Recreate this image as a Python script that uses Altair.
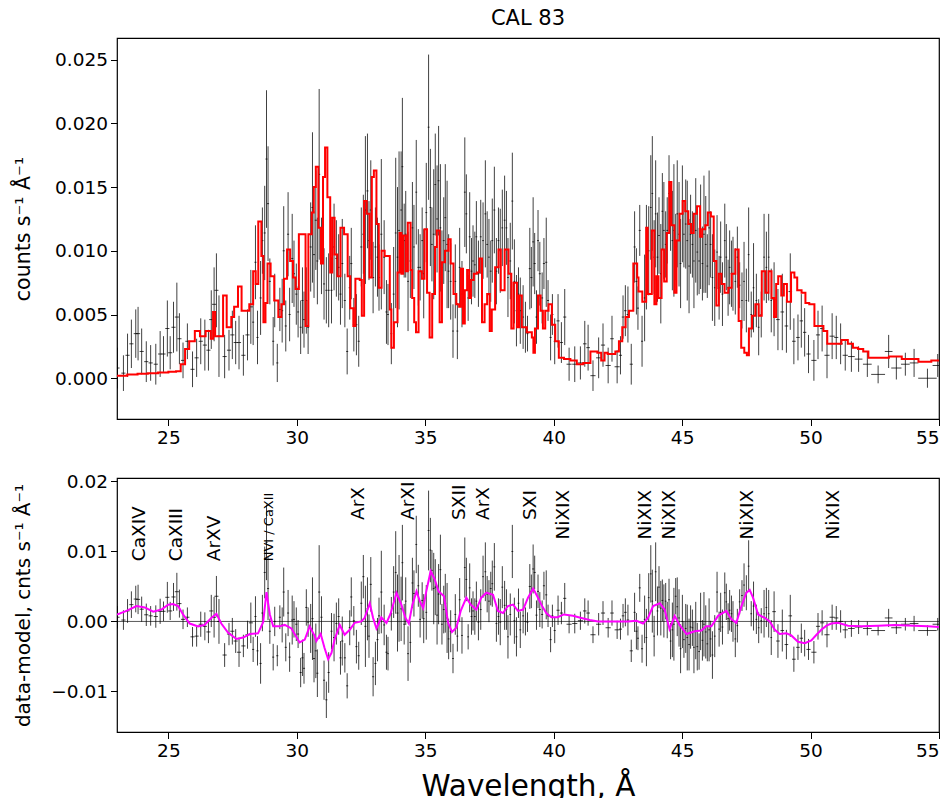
import altair as alt
import numpy as np
import pandas as pd

# ---- observed spectrum: bin centre, half-width, counts, 1-sigma error ----
WL = [
    23.02, 23.25, 23.41, 23.56, 23.73, 23.82, 23.96, 24.14, 24.31, 24.51, 24.68, 24.81,
    24.96, 25.07, 25.20, 25.33, 25.43, 25.57, 25.74, 25.94, 26.10, 26.26, 26.42, 26.56,
    26.67, 26.78, 26.87, 26.97, 27.19, 27.36, 27.49, 27.62, 27.75, 27.92, 28.08, 28.21,
    28.30, 28.39, 28.47, 28.59, 28.66, 28.75, 28.82, 28.88, 28.95, 29.08, 29.14, 29.24,
    29.34, 29.43, 29.49, 29.57, 29.66, 29.72, 29.82, 29.89, 29.98, 30.05, 30.15, 30.22,
    30.28, 30.37, 30.44, 30.54, 30.61, 30.67, 30.74, 30.80, 30.87, 30.96, 31.06, 31.15,
    31.24, 31.35, 31.45, 31.54, 31.63, 31.70, 31.77, 31.87, 31.96, 32.06, 32.12, 32.22,
    32.32, 32.41, 32.51, 32.59, 32.67, 32.75, 32.81, 32.88, 32.97, 33.06, 33.14, 33.20,
    33.29, 33.40, 33.49,
    33.55, 33.68, 33.77, 33.85, 33.92, 33.98, 34.06, 34.11, 34.18, 34.24, 34.33, 34.42,
    34.50, 34.56, 34.65, 34.73, 34.80, 34.88, 34.94, 35.04, 35.13, 35.20, 35.26, 35.33,
    35.39, 35.46, 35.52, 35.59, 35.65, 35.72, 35.78, 35.85, 35.91, 35.99, 36.08, 36.17,
    36.25, 36.34, 36.43, 36.54, 36.60, 36.67, 36.73, 36.80, 36.86, 36.93, 36.99, 37.07,
    37.16, 37.25, 37.34, 37.41, 37.48, 37.55, 37.61, 37.69, 37.77, 37.85, 37.92, 38.00,
    38.09, 38.16, 38.22, 38.31, 38.39, 38.47, 38.55, 38.63, 38.70, 38.81,
    38.90, 38.98, 39.07, 39.13, 39.20, 39.26, 39.33, 39.39, 39.46, 39.55, 39.62, 39.71,
    39.78, 39.88, 39.95, 40.04, 40.17, 40.30, 40.43, 40.60, 40.82, 41.04, 41.21, 41.34,
    41.53, 41.75, 41.92, 42.12, 42.27, 42.47, 42.60, 42.70, 42.79, 42.89, 43.02, 43.15,
    43.22, 43.28, 43.35, 43.44,
    43.54, 43.61, 43.70, 43.78, 43.84, 43.91, 43.97, 44.04, 44.10, 44.17, 44.23, 44.29,
    44.36, 44.42, 44.49, 44.55, 44.62, 44.68, 44.75, 44.81, 44.88, 44.94, 45.01, 45.07,
    45.14, 45.20, 45.27, 45.33, 45.40, 45.46, 45.53, 45.59, 45.66, 45.72, 45.79, 45.85,
    45.92, 45.98, 46.05, 46.11, 46.18, 46.27, 46.36, 46.44, 46.50, 46.57, 46.66, 46.72,
    46.79, 46.85, 46.92, 46.98, 47.07, 47.15, 47.24, 47.33, 47.41, 47.50, 47.59, 47.69,
    47.78, 47.89, 47.98, 48.08, 48.19, 48.28, 48.37, 48.47,
    48.58, 48.73, 48.90, 49.06, 49.21, 49.35, 49.51, 49.64, 49.77, 49.92, 50.13, 50.29,
    50.45, 50.64, 50.84, 51.00, 51.17, 51.35, 51.59, 51.87, 52.21, 52.63, 53.04, 53.34,
    53.69, 54.03, 54.55, 54.95,
]

HW = (
    [0.08] * 36
    + [0.04] * 63
    + [0.035] * 70
    + [0.04] * 16 + [0.06] * 3
    + [0.1, 0.1, 0.1, 0.07, 0.07, 0.1, 0.1, 0.08, 0.1, 0.07, 0.1, 0.06, 0.05, 0.05, 0.05, 0.06]
    + [0.04] * 5
    + [0.033] * 68
    + [0.07] * 7 + [0.065, 0.065, 0.08, 0.1, 0.08, 0.08, 0.1, 0.1, 0.08, 0.09, 0.1, 0.13,
                   0.15, 0.17, 0.27, 0.15, 0.2, 0.17, 0.17, 0.36, 0.2]
)

COUNTS = [
    0.0008, 0.0004, 0.0018, 0.0027, 0.0035, 0.0035, 0.0021, 0.0013, 0.0012, 0.0011, 0.0019, 0.0019,
    0.0039, 0.0020, 0.0040, 0.0048, 0.0031, 0.0014, 0.0029, 0.0007, 0.0016, 0.0029, 0.0026, 0.0022,
    0.0046, 0.0058, 0.0069, 0.0033, 0.0017, 0.0022, 0.0034, 0.0028, 0.0028, 0.0018, 0.0034, 0.0056,
    0.0044, 0.0091, 0.0032, 0.0063, 0.0108, 0.0114, 0.0172, 0.0137, 0.0076, 0.0029, 0.0061, 0.0012,
    0.0054, 0.0053, 0.0100, 0.0041, 0.0113, 0.0050, 0.0094, 0.0082, 0.0066, 0.0052, 0.0040, 0.0061,
    0.0046, 0.0061, 0.0040, 0.0103, 0.0134, 0.0097, 0.0124, 0.0092, 0.0160, 0.0096, 0.0074, 0.0069,
    0.0069, 0.0069, 0.0103, 0.0094, 0.0087, 0.0066, 0.0090, 0.0061, 0.0021, 0.0071, 0.0090, 0.0042,
    0.0042, 0.0029, 0.0103, 0.0113, 0.0132, 0.0147, 0.0108, 0.0132, 0.0079, 0.0103, 0.0095, 0.0079,
    0.0113, 0.0095, 0.0052,
    0.0050, 0.0035, 0.0066, 0.0114, 0.0095, 0.0116, 0.0132, 0.0166, 0.0108, 0.0113, 0.0076, 0.0092,
    0.0118, 0.0103, 0.0146, 0.0087, 0.0087, 0.0108, 0.0082, 0.0130, 0.0197, 0.0134, 0.0105, 0.0113,
    0.0152, 0.0125, 0.0155, 0.0118, 0.0087, 0.0108, 0.0126, 0.0105, 0.0084, 0.0076, 0.0037, 0.0076,
    0.0037, 0.0087, 0.0066, 0.0146, 0.0129, 0.0063, 0.0111, 0.0084, 0.0092, 0.0089, 0.0111, 0.0082,
    0.0111, 0.0108, 0.0129, 0.0105, 0.0095, 0.0084, 0.0108, 0.0132, 0.0084, 0.0108, 0.0100, 0.0118,
    0.0124, 0.0118, 0.0079, 0.0092, 0.0139, 0.0076, 0.0053, 0.0066, 0.0053, 0.0048,
    0.0040, 0.0035, 0.0086, 0.0079, 0.0107, 0.0090, 0.0048, 0.0108, 0.0082, 0.0063, 0.0090, 0.0091,
    0.0061, 0.0032, 0.0050, 0.0029, 0.0045, 0.0028, 0.0048, 0.0011, 0.0011, 0.0012, 0.0027, 0.0024,
    0.0002, 0.0016, 0.0026, 0.0010, 0.0031, 0.0009, 0.0018, 0.0048, 0.0053, 0.0050, 0.0011, 0.0103,
    0.0076, 0.0055, 0.0116, 0.0029,
    0.0063, 0.0095, 0.0100, 0.0134, 0.0145, 0.0095, 0.0129, 0.0095, 0.0112, 0.0082, 0.0131, 0.0116,
    0.0105, 0.0116, 0.0145, 0.0126, 0.0108, 0.0116, 0.0103, 0.0129, 0.0113, 0.0090, 0.0129, 0.0113,
    0.0121, 0.0108, 0.0088, 0.0113, 0.0105, 0.0092, 0.0116, 0.0099, 0.0092, 0.0111, 0.0090, 0.0113,
    0.0105, 0.0088, 0.0118, 0.0105, 0.0079, 0.0071, 0.0099, 0.0071, 0.0095, 0.0066, 0.0108, 0.0095,
    0.0071, 0.0087, 0.0082, 0.0082, 0.0076, 0.0095, 0.0073, 0.0061, 0.0076, 0.0061, 0.0097, 0.0050,
    0.0071, 0.0061, 0.0040, 0.0050, 0.0095, 0.0087, 0.0095, 0.0061,
    0.0062, 0.0046, 0.0052, 0.0041, 0.0068, 0.0029, 0.0032, 0.0045, 0.0036, 0.0019, 0.0014, 0.0034,
    0.0039, 0.0018, 0.0033, 0.0032, 0.0027, 0.0018, 0.0017, 0.0015, 0.0011, 0.0003, 0.0021, 0.0008,
    0.0011, 0.0012, 0.0000, 0.0010,
]

ERR = [
    0.0016, 0.0014, 0.0017, 0.0019, 0.0019, 0.0021, 0.0018, 0.0016, 0.0014, 0.0016, 0.0018, 0.0014,
    0.0022, 0.0013, 0.0020, 0.0027, 0.0020, 0.0014, 0.0014, 0.0014, 0.0015, 0.0018, 0.0020, 0.0016,
    0.0023, 0.0029, 0.0029, 0.0032, 0.0017, 0.0016, 0.0019, 0.0017, 0.0021, 0.0016, 0.0020, 0.0029,
    0.0018, 0.0029, 0.0021, 0.0029, 0.0026, 0.0037, 0.0054, 0.0045, 0.0018, 0.0019, 0.0021, 0.0015,
    0.0017, 0.0025, 0.0035, 0.0020, 0.0033, 0.0021, 0.0035, 0.0026, 0.0024, 0.0020, 0.0021, 0.0026,
    0.0022, 0.0026, 0.0021, 0.0035, 0.0059, 0.0034, 0.0039, 0.0034, 0.0067, 0.0030, 0.0028, 0.0026,
    0.0029, 0.0026, 0.0034, 0.0030, 0.0026, 0.0024, 0.0035, 0.0021, 0.0018, 0.0025, 0.0028, 0.0021,
    0.0024, 0.0020, 0.0031, 0.0031, 0.0058, 0.0045, 0.0031, 0.0039, 0.0028, 0.0031, 0.0031, 0.0026,
    0.0059, 0.0029, 0.0025,
    0.0024, 0.0024, 0.0037, 0.0059, 0.0055, 0.0062, 0.0046, 0.0054, 0.0029, 0.0034, 0.0039, 0.0029,
    0.0036, 0.0033, 0.0041, 0.0030, 0.0026, 0.0026, 0.0035, 0.0039, 0.0057, 0.0046, 0.0029, 0.0051,
    0.0040, 0.0042, 0.0043, 0.0050, 0.0029, 0.0034, 0.0042, 0.0050, 0.0029, 0.0030, 0.0021, 0.0029,
    0.0022, 0.0031, 0.0026, 0.0043, 0.0031, 0.0018, 0.0035, 0.0026, 0.0028, 0.0026, 0.0028, 0.0026,
    0.0029, 0.0030, 0.0042, 0.0026, 0.0030, 0.0024, 0.0033, 0.0034, 0.0026, 0.0026, 0.0033, 0.0030,
    0.0035, 0.0029, 0.0031, 0.0030, 0.0038, 0.0033, 0.0028, 0.0021, 0.0026, 0.0025,
    0.0020, 0.0014, 0.0032, 0.0024, 0.0035, 0.0024, 0.0021, 0.0024, 0.0025, 0.0020, 0.0020, 0.0035,
    0.0016, 0.0018, 0.0016, 0.0018, 0.0021, 0.0016, 0.0022, 0.0013, 0.0014, 0.0013, 0.0018, 0.0018,
    0.0012, 0.0016, 0.0017, 0.0014, 0.0018, 0.0013, 0.0015, 0.0017, 0.0020, 0.0022, 0.0016, 0.0028,
    0.0026, 0.0017, 0.0020, 0.0020,
    0.0034, 0.0041, 0.0035, 0.0041, 0.0045, 0.0029, 0.0042, 0.0035, 0.0030, 0.0039, 0.0030, 0.0038,
    0.0026, 0.0026, 0.0030, 0.0026, 0.0039, 0.0052, 0.0026, 0.0042, 0.0041, 0.0035, 0.0038, 0.0026,
    0.0035, 0.0047, 0.0037, 0.0031, 0.0026, 0.0037, 0.0041, 0.0034, 0.0026, 0.0041, 0.0029, 0.0046,
    0.0038, 0.0025, 0.0045, 0.0026, 0.0034, 0.0030, 0.0029, 0.0025, 0.0028, 0.0025, 0.0029, 0.0026,
    0.0022, 0.0029, 0.0026, 0.0029, 0.0026, 0.0024, 0.0018, 0.0022, 0.0031, 0.0025, 0.0037, 0.0018,
    0.0035, 0.0021, 0.0022, 0.0018, 0.0034, 0.0028, 0.0034, 0.0025,
    0.0029, 0.0024, 0.0030, 0.0021, 0.0030, 0.0018, 0.0018, 0.0021, 0.0019, 0.0015, 0.0016, 0.0019,
    0.0018, 0.0018, 0.0018, 0.0017, 0.0016, 0.0012, 0.0012, 0.0010, 0.0010, 0.0007, 0.0013, 0.0009,
    0.0009, 0.0011, 0.00075, 0.0009,
]

# ---- folded model: step starts (Angstrom) and level ----
MODEL_EDGE = [
    23.00, 23.40, 23.80, 24.20, 24.60, 25.00, 25.30, 25.48, 25.65, 25.81, 26.03, 26.23,
    26.45, 26.65, 26.74, 26.82, 27.13, 27.27, 27.45, 27.56, 27.71, 27.85, 28.15, 28.30,
    28.40, 28.50, 28.62, 28.70, 28.78, 28.86, 28.98, 29.12, 29.28, 29.40, 29.50, 29.62,
    29.74, 29.85, 29.95, 30.08, 30.34, 30.45, 30.58, 30.66, 30.74, 30.84, 30.94, 31.02,
    31.10, 31.19, 31.30, 31.38, 31.47, 31.58, 31.70, 31.84, 31.98, 32.08, 32.20, 32.28,
    32.45, 32.53, 32.62, 32.72, 32.83, 32.92, 33.00, 33.10, 33.19, 33.30, 33.42, 33.62,
    33.68, 33.78, 33.92, 34.00, 34.07, 34.14, 34.24, 34.32, 34.43, 34.49, 34.57, 34.64,
    34.74, 34.87, 34.97, 35.07, 35.17, 35.27, 35.38, 35.45, 35.56, 35.65, 35.77, 35.90,
    35.99, 36.10, 36.21, 36.32, 36.39, 36.47, 36.54, 36.63, 36.71, 36.78, 36.89, 37.01,
    37.11, 37.21, 37.31, 37.41, 37.51, 37.59, 37.72, 37.85, 37.94, 38.09, 38.24, 38.35,
    38.44, 38.57, 38.65, 38.76, 38.95, 39.15, 39.21, 39.27, 39.39, 39.49, 39.58, 39.67,
    39.80, 39.93, 40.06, 40.20, 40.40, 40.65, 40.90, 41.15, 41.43, 41.70, 41.85, 41.98,
    42.10, 42.40, 42.54, 42.67, 42.80, 42.93, 43.10, 43.25, 43.30, 43.45, 43.60, 43.66,
    43.82, 43.92, 44.00, 44.08, 44.20, 44.30, 44.40, 44.50, 44.58, 44.70, 44.78, 44.90,
    45.02, 45.12, 45.24, 45.35, 45.45, 45.58, 45.70, 45.78, 45.90, 46.00, 46.12, 46.23,
    46.33, 46.43, 46.53, 46.65, 46.80, 46.93, 47.07, 47.20, 47.30, 47.42, 47.52, 47.60,
    47.72, 47.85, 47.98, 48.10, 48.24, 48.36, 48.48, 48.58, 48.66, 48.74, 48.86, 48.96,
    49.08, 49.24, 49.37, 49.48, 49.65, 49.80, 49.95, 50.15, 50.50, 50.65, 51.20, 51.45,
    51.65, 51.85, 52.05, 52.25, 53.05, 53.55, 54.20, 54.70, 55.00,
]
MODEL_VAL = [
    0.00020, 0.00030, 0.00035, 0.00040, 0.00045, 0.00050, 0.00055, 0.0011, 0.0023, 0.0029, 0.0037, 0.0033,
    0.0037, 0.0031, 0.0052, 0.0033, 0.0065, 0.0040, 0.0048, 0.0056, 0.0072, 0.0053, 0.0058, 0.0084,
    0.0074, 0.0123, 0.0096, 0.0044, 0.0059, 0.0090, 0.0080, 0.0061, 0.0048, 0.0058, 0.0078, 0.0101,
    0.0092, 0.0079, 0.0070, 0.0113, 0.0041, 0.0113, 0.0130, 0.0150, 0.0166, 0.0118, 0.0090, 0.0158,
    0.0181, 0.0142, 0.0083, 0.0126, 0.0097, 0.0080, 0.0118, 0.0113, 0.0080, 0.0055, 0.0041, 0.0078,
    0.0077, 0.0049, 0.0139, 0.0129, 0.0079, 0.0158, 0.0163, 0.0121, 0.0071, 0.0100, 0.0096, 0.0054,
    0.0024, 0.0044, 0.0083, 0.0114, 0.0082, 0.0112, 0.0084, 0.0122, 0.0085, 0.0063, 0.0044, 0.0036,
    0.0084, 0.0078, 0.0117, 0.0067, 0.0032, 0.0066, 0.0103, 0.0116, 0.0044, 0.0091, 0.0100, 0.0109,
    0.0090, 0.0066, 0.0058, 0.0056, 0.0086, 0.0043, 0.0069, 0.0085, 0.0063, 0.0077, 0.0082, 0.0083,
    0.0094, 0.0044, 0.0058, 0.0066, 0.0037, 0.0054, 0.0087, 0.0101, 0.0069, 0.0101, 0.0082, 0.0039,
    0.0075, 0.0040, 0.0065, 0.0040, 0.0036, 0.0032, 0.0020, 0.0039, 0.0065, 0.0053, 0.0039, 0.0053,
    0.0058, 0.0042, 0.0029, 0.0016, 0.0015, 0.0014, 0.0011, 0.0012, 0.0021, 0.0020, 0.0014, 0.0020,
    0.0019, 0.0021, 0.0029, 0.0040, 0.0048, 0.0053, 0.0090, 0.0079, 0.0068, 0.0060, 0.0118, 0.0066,
    0.0116, 0.0058, 0.0080, 0.0063, 0.0101, 0.0076, 0.0114, 0.0154, 0.0120, 0.0067, 0.0108, 0.0129,
    0.0139, 0.0131, 0.0121, 0.0114, 0.0129, 0.0135, 0.0111, 0.0117, 0.0120, 0.0130, 0.0127, 0.0092,
    0.0057, 0.0082, 0.0074, 0.0067, 0.0071, 0.0082, 0.0101, 0.0045, 0.0024, 0.0020, 0.0018, 0.0039,
    0.0049, 0.0058, 0.0049, 0.0084, 0.0067, 0.0084, 0.0063, 0.0048, 0.0074, 0.0080, 0.0065, 0.0074,
    0.0060, 0.0083, 0.0079, 0.0069, 0.0067, 0.0059, 0.0058, 0.0041, 0.0037, 0.0027, 0.0030, 0.0027,
    0.0024, 0.0023, 0.0021, 0.0016, 0.0017, 0.0015, 0.0013, 0.0014, 0.0014,
]

# ---- smoothed residual curve ----
SMOOTH_WL = [
    23.00, 23.37, 23.76, 24.08, 24.41, 24.73, 24.99, 25.18, 25.38, 25.57, 25.83, 26.16,
    26.41, 26.67, 26.87, 27.06, 27.32, 27.65, 27.91, 28.17, 28.49, 28.69, 28.82, 28.95,
    29.08, 29.33, 29.53, 29.79, 30.11, 30.31, 30.50, 30.70, 30.76, 30.93, 31.08, 31.22,
    31.35, 31.47, 31.67, 31.86, 32.06, 32.25, 32.51, 32.64, 32.84, 32.97, 33.10, 33.29,
    33.49, 33.65, 33.88, 34.07, 34.23, 34.36, 34.50, 34.66, 34.79, 34.92, 35.04, 35.21,
    35.37, 35.52, 35.73, 35.89, 36.04, 36.21, 36.38, 36.60, 36.77, 36.99, 37.18, 37.38,
    37.64, 37.83, 38.03, 38.22, 38.42, 38.61, 38.81, 39.00, 39.20, 39.36, 39.52, 39.71,
    39.91, 40.15, 40.40, 40.75, 41.08, 41.40, 41.73, 42.37, 42.89, 43.22, 43.48, 43.67,
    43.87, 44.13, 44.32, 44.51, 44.71, 44.90, 45.17, 45.49, 45.75, 45.94, 46.14, 46.40,
    46.72, 46.92, 47.11, 47.31, 47.50, 47.63, 47.76, 47.96, 48.22, 48.41, 48.61, 48.80,
    49.06, 49.25, 49.51, 49.77, 50.03, 50.23, 50.42, 50.62, 50.81, 51.07, 51.46, 51.98,
    52.63, 53.27, 54.05, 54.57, 55.00,
]
SMOOTH_RES = [
    0.0010, 0.0015, 0.0022, 0.0020, 0.0014, 0.0017, 0.0024, 0.0025, 0.0022, 0.0010, -0.0003, -0.0007,
    -0.0005, 0.0005, 0.0011, -0.0003, -0.0016, -0.0025, -0.0023, -0.0018, -0.0017, -0.0001, 0.0042, 0.0010,
    -0.0007, -0.0007, -0.0005, -0.0010, -0.0030, -0.0026, -0.0007, -0.0021, -0.0028, -0.0018, -0.0038, -0.0054,
    -0.0045, -0.0026, -0.0005, -0.0019, -0.0012, -0.0002, 0.0000, 0.0005, 0.0026, 0.0005, -0.0010, 0.0006,
    -0.0002, 0.0011, 0.0041, 0.0024, 0.0005, -0.0003, 0.0024, 0.0043, 0.0029, 0.0019, 0.0043, 0.0072,
    0.0060, 0.0043, 0.0036, -0.0002, -0.0015, -0.0009, 0.0015, 0.0034, 0.0024, 0.0017, 0.0034, 0.0041,
    0.0038, 0.0015, 0.0012, 0.0022, 0.0024, 0.0015, 0.0017, 0.0034, 0.0047, 0.0036, 0.0024, 0.0012,
    0.0006, 0.0006, 0.0010, 0.0008, 0.0005, 0.0002, 0.0000, 0.0000, 0.0000, 0.0001, -0.0003, 0.0005,
    0.0022, 0.0026, 0.0017, -0.0011, 0.0008, -0.0005, -0.0018, -0.0014, -0.0013, -0.0007, -0.0007, 0.0008,
    0.0015, 0.0003, -0.0002, 0.0022, 0.0041, 0.0045, 0.0034, 0.0010, 0.0005, 0.0000, -0.0012, -0.0018,
    -0.0017, -0.0020, -0.0029, -0.0031, -0.0027, -0.0019, -0.0012, -0.0006, -0.0003, -0.0002, -0.0006, -0.0007,
    -0.0006, -0.0005, -0.0006, -0.0007, -0.0008,
]

# ---- line identifications ----
LINE_NAME = ["CaXIV", "CaXIII", "ArXV", "NVI / CaXII", "ArX", "ArXI", "SXII", "ArX", "SXI",
             "NiXIX", "NiXIX", "NiXIX", "NiXIX", "NiXIX"]
LINE_WL = [23.87, 25.31, 26.79, 28.93, 32.40, 34.33, 36.33, 37.26, 39.09,
           40.38, 43.57, 44.50, 47.53, 50.89]
LINE_Y = [0.0086, 0.0086, 0.0086, 0.0086, 0.0145, 0.0145, 0.0145, 0.0145, 0.0145,
          0.0117, 0.0117, 0.0117, 0.0117, 0.0117]
LINE_FS = [18.5, 18.5, 18.5, 13, 18.5, 18.5, 18.5, 18.5, 18.5, 18.5, 18.5, 18.5, 18.5, 18.5]

TITLE = ["CAL 83"]
X_TICKS = [25, 30, 35, 40, 45, 50, 55]
Y_TICKS_TOP = [0.0, 0.005, 0.010, 0.015, 0.020, 0.025]
Y_TICKS_BOT = [-0.01, 0.0, 0.01, 0.02]

# ---- tables ----
wl = np.array(WL)
hw = np.array(HW)
cnt = np.array(COUNTS)
err = np.array(ERR)
edge = np.array(MODEL_EDGE)
mval = np.array(MODEL_VAL)
model_at_bin = mval[np.searchsorted(edge, wl, side="right") - 1]
res = cnt - model_at_bin

spec = pd.DataFrame({
    "wl": wl, "lo": wl - hw, "hi": wl + hw,
    "c": cnt, "c_lo": cnt - err, "c_hi": cnt + err,
    "r": res, "r_lo": res - err, "r_hi": res + err,
})
model_df = pd.DataFrame({"wl": edge, "m": mval})
smooth_df = pd.DataFrame({"wl": SMOOTH_WL, "r": SMOOTH_RES})
lines_df = pd.DataFrame({"name": LINE_NAME, "wl": LINE_WL, "y": LINE_Y, "fs": LINE_FS})
zero_df = pd.DataFrame({"y": [0.0]})
title_df = pd.DataFrame({"t": TITLE})

FONT = "DejaVu Sans"
W, H_TOP, H_BOT = 822, 381, 254

xscale = alt.Scale(domain=[23, 55], nice=False, zero=False)
yscale_top = alt.Scale(domain=[-0.0032, 0.0267], nice=False, zero=False)
yscale_bot = alt.Scale(domain=[-0.0158, 0.0205], nice=False, zero=False)

axis_common = dict(
    domain=False, grid=False, ticks=True, tickSize=6.5, tickColor="black", tickWidth=1,
    labelFont=FONT, labelFontSize=18.5, labelColor="black", labelPadding=3,
    titleFont=FONT, titleColor="black", titleFontWeight="normal",
)

x_top = alt.X("wl:Q", scale=xscale,
              axis=alt.Axis(values=X_TICKS, format="d", title=None, **axis_common))
x_bot = alt.X("wl:Q", scale=xscale,
              axis=alt.Axis(values=X_TICKS, format="d", title="Wavelength, Å",
                            titleFontSize=29.5, titlePadding=12, **axis_common))

y_top_axis = alt.Axis(values=Y_TICKS_TOP, format=".3f", title="counts s⁻¹ Å⁻¹",
                      titleFontSize=20.5, titleAngle=270, titleAlign="center",
                      titleBaseline="middle", titleX=-94, titleY=H_TOP / 2, **axis_common)
y_bot_axis = alt.Axis(values=Y_TICKS_BOT, format=".2f", title="data-model, cnts s⁻¹ Å⁻¹",
                      titleFontSize=20, titleAngle=270, titleAlign="center",
                      titleBaseline="middle", titleX=-94, titleY=H_BOT / 2, **axis_common)

bar_style = dict(color="black", strokeWidth=1, opacity=0.75, clip=True)

# ---- upper panel: spectrum with model ----
top_err = alt.Chart(spec).mark_rule(**bar_style).encode(
    x=x_top, y=alt.Y("c_lo:Q", scale=yscale_top, axis=y_top_axis), y2="c_hi:Q")
top_bin = alt.Chart(spec).mark_rule(**bar_style).encode(
    x=alt.X("lo:Q", scale=xscale), x2="hi:Q", y=alt.Y("c:Q", scale=yscale_top))
top_model = alt.Chart(model_df).mark_line(
    color="#ff0000", strokeWidth=2, interpolate="step-after", clip=True
).encode(x=alt.X("wl:Q", scale=xscale), y=alt.Y("m:Q", scale=yscale_top))
top_title = alt.Chart(title_df).mark_text(
    font=FONT, fontSize=21, color="black", align="center", baseline="alphabetic"
).encode(x=alt.value(W / 2), y=alt.value(-13), text="t:N")

top = alt.layer(top_err, top_bin, top_model, top_title).properties(width=W, height=H_TOP)

# ---- lower panel: residuals ----
bot_err = alt.Chart(spec).mark_rule(**bar_style).encode(
    x=x_bot, y=alt.Y("r_lo:Q", scale=yscale_bot, axis=y_bot_axis), y2="r_hi:Q")
bot_bin = alt.Chart(spec).mark_rule(**bar_style).encode(
    x=alt.X("lo:Q", scale=xscale), x2="hi:Q", y=alt.Y("r:Q", scale=yscale_bot))
bot_zero = alt.Chart(zero_df).mark_rule(color="black", strokeWidth=1, opacity=0.65).encode(
    y=alt.Y("y:Q", scale=yscale_bot))
bot_smooth = alt.Chart(smooth_df).mark_line(color="#ff00ff", strokeWidth=2, clip=True).encode(
    x=alt.X("wl:Q", scale=xscale), y=alt.Y("r:Q", scale=yscale_bot))
bot_labels = alt.Chart(lines_df).mark_text(
    angle=270, align="left", baseline="middle", font=FONT, color="black"
).encode(
    x=alt.X("wl:Q", scale=xscale), y=alt.Y("y:Q", scale=yscale_bot),
    text="name:N", size=alt.Size("fs:Q", scale=None, legend=None),
)

bottom = alt.layer(bot_err, bot_bin, bot_zero, bot_smooth, bot_labels).properties(
    width=W, height=H_BOT)

chart = alt.vconcat(top, bottom, spacing=59, bounds="flush").properties(
    padding={"left": 12, "top": 7, "right": 0, "bottom": 0},
).configure(
    font=FONT, background="white"
).configure_view(
    stroke="black", strokeWidth=1.2, fill="white"
)

chart.save("out.html", embed_options={"renderer": "svg", "actions": False})
